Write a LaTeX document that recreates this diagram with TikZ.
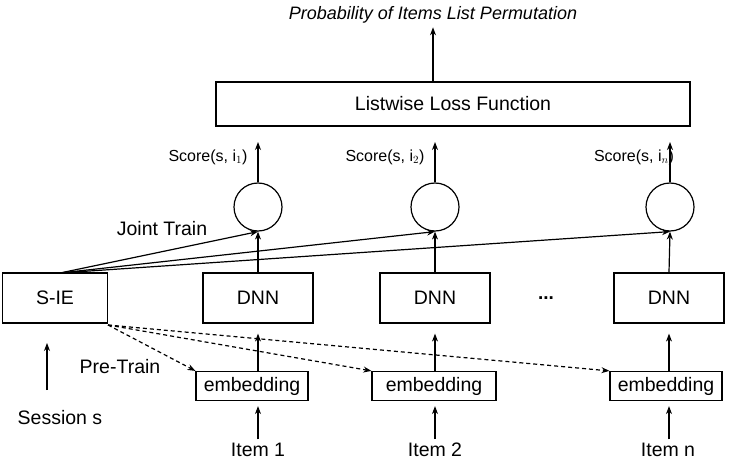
\documentclass[tikz,border=0pt]{standalone}
\usepackage{fontspec}
\setmainfont{Liberation Sans}
\usetikzlibrary{arrows.meta,calc}
\begin{document}
\begin{tikzpicture}[x=1pt,y=-1pt,line width=1.2pt,
  bx/.style={draw,inner sep=0pt},
  ar/.style={-{Stealth[length=8pt,width=6pt]}},
  da/.style={-{Stealth[length=8pt,width=6pt]},dash pattern=on 4pt off 3pt},
  cir/.style={draw,circle,minimum size=48pt,inner sep=0pt},
  lbl/.style={font=\fontsize{19.5}{22}\selectfont}]
\useasboundingbox (0,0) rectangle (736,465);
\node[font=\itshape\fontsize{18}{20}\selectfont] (title) at (433,15) {Probability of Items List Permutation};
\node[bx,minimum width=474pt,minimum height=44pt,lbl] (loss) at (453,104) {Listwise Loss Function};
\draw[ar] (loss.north -| title) -- (title.south);
\foreach \n/\x in {1/258,2/435,3/670}{
  \node[cir] (c\n) at (\x,207) {};
  \draw[ar] (c\n.north) -- (\x,142);
}
\node[font=\fontsize{16}{18}\selectfont] (s1) at (208,157) {Score(s, i$_1$)};
\node[font=\fontsize{16}{18}\selectfont] (s2) at (385,157) {Score(s, i$_2$)};
\node[font=\fontsize{16}{18}\selectfont] (s3) at (634,157) {Score(s, i$_n$)};
\node[bx,minimum width=105pt,minimum height=50pt,lbl] (sie) at (55,298) {S-IE};
\node[bx,minimum width=110pt,minimum height=50pt,lbl] (d1) at (258,298) {DNN};
\node[bx,minimum width=110pt,minimum height=50pt,lbl] (d2) at (435,298) {DNN};
\node[bx,minimum width=110pt,minimum height=50pt,lbl] (d3) at (669,298) {DNN};
\node[font=\bfseries\fontsize{19}{20}\selectfont] (dots) at (546,298) {...};
\node[bx,minimum width=112pt,minimum height=29pt,lbl] (e1) at (252,386) {embedding};
\node[bx,minimum width=124pt,minimum height=29pt,lbl] (e2) at (434,386) {embedding};
\node[bx,minimum width=112pt,minimum height=29pt,lbl] (e3) at (666,386) {embedding};
\node[lbl] (i1) at (258,450) {Item 1};
\node[lbl] (i2) at (435,450) {Item 2};
\node[lbl] (i3) at (668,450) {Item n};
\node[lbl] (ses) at (60,418) {Session s};
\node[lbl] (jt) at (162,229) {Joint Train};
\node[lbl] (pt) at (120,367) {Pre-Train};
\coordinate (sb) at (47,390);
\coordinate (st) at (47,343);
\draw[ar] (sb) -- (st);
\foreach \n in {1,2,3}{
  \draw[ar] (i\n.north -| d\n) -- ($(e\n.south -| d\n)+(0,5)$);
  \draw[ar] (e\n.north -| d\n) -- ($(d\n.south)+(0,10)$);
  \draw[ar] (d\n.north) -- (c\n.south);
}
\coordinate (sj) at (60,273);
\draw[ar] (sj) -- (c1.south);
\draw[ar] (sj) -- (c2.south);
\draw[ar] (sj) -- (c3.south);
\coordinate (sp) at (108,325);
\draw[da] (sp) -- (e1.north west);
\draw[da] (sp) -- (e2.north west);
\draw[da] (sp) -- (e3.north west);
\end{tikzpicture}
\end{document}
